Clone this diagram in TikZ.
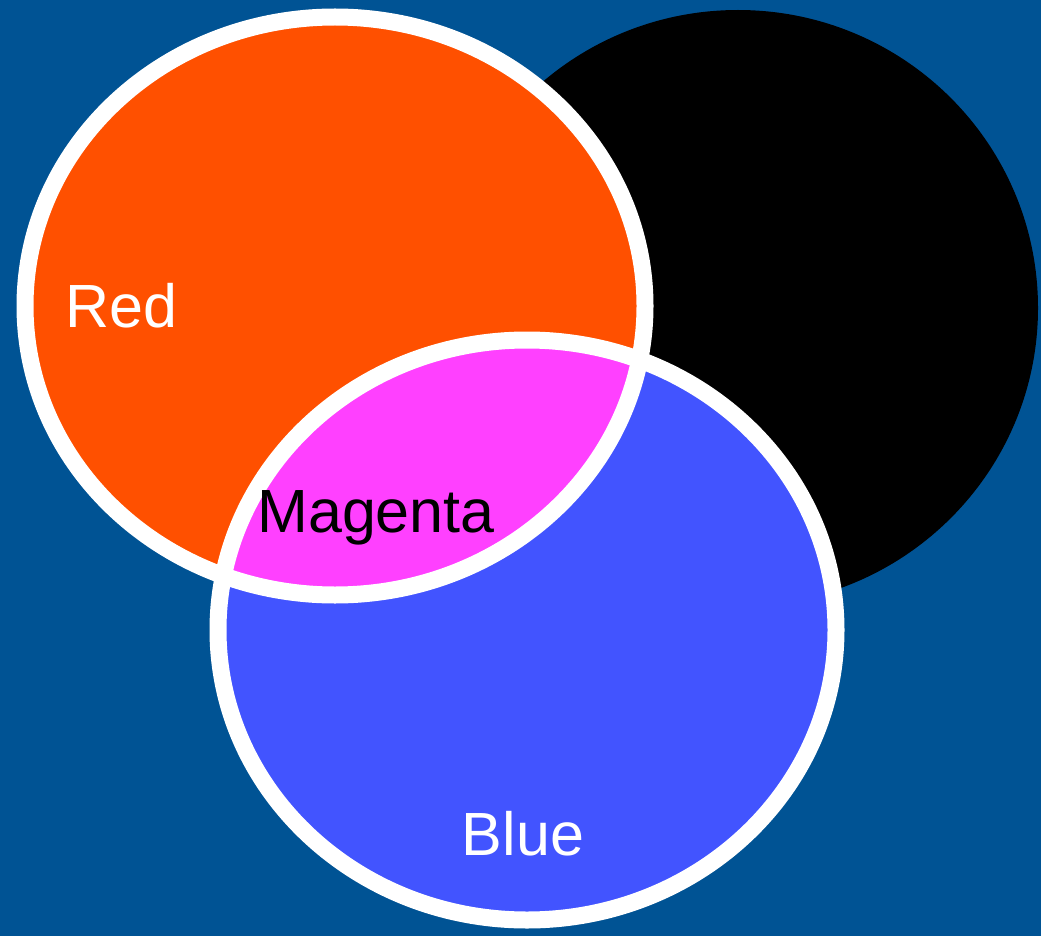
\documentclass[tikz,border=0pt]{standalone}
\usepackage{fontspec}
\setmainfont{Liberation Sans}
\definecolor{bgblue}{RGB}{0,83,148}
\definecolor{redc}{RGB}{255,80,0}
\definecolor{bluec}{RGB}{66,84,255}
\definecolor{magc}{RGB}{255,64,255}
\begin{document}
\begin{tikzpicture}[x=1pt,y=-1pt,
  ring/.style={draw=white,line width=17pt},
  lbl/.style={font=\fontsize{61}{70}\selectfont, anchor=base, inner sep=0pt}]
\fill[bgblue] (0,0) rectangle (1041,936);
\useasboundingbox (0,0) rectangle (1041,936);
% black circle
\fill[black] (738,308) ellipse[x radius=300pt, y radius=298pt];
% red and blue discs
\fill[redc] (335,306) ellipse[x radius=310pt, y radius=289pt];
\fill[bluec] (527,630) ellipse[x radius=309pt, y radius=290pt];
% magenta overlap
\begin{scope}
  \clip (527,630) ellipse[x radius=309pt, y radius=290pt];
  \fill[magc] (335,306) ellipse[x radius=310pt, y radius=289pt];
\end{scope}
% white rings
\draw[ring] (335,306) ellipse[x radius=310pt, y radius=289pt];
\draw[ring] (527,630) ellipse[x radius=309pt, y radius=290pt];
% labels
\node[lbl, text=white] (red) at (121,327) {Red};
\node[lbl, text=black] (magenta) at (376,532) {Magenta};
\node[lbl, text=white] (blue) at (523,855) {Blue};
\end{tikzpicture}
\end{document}
